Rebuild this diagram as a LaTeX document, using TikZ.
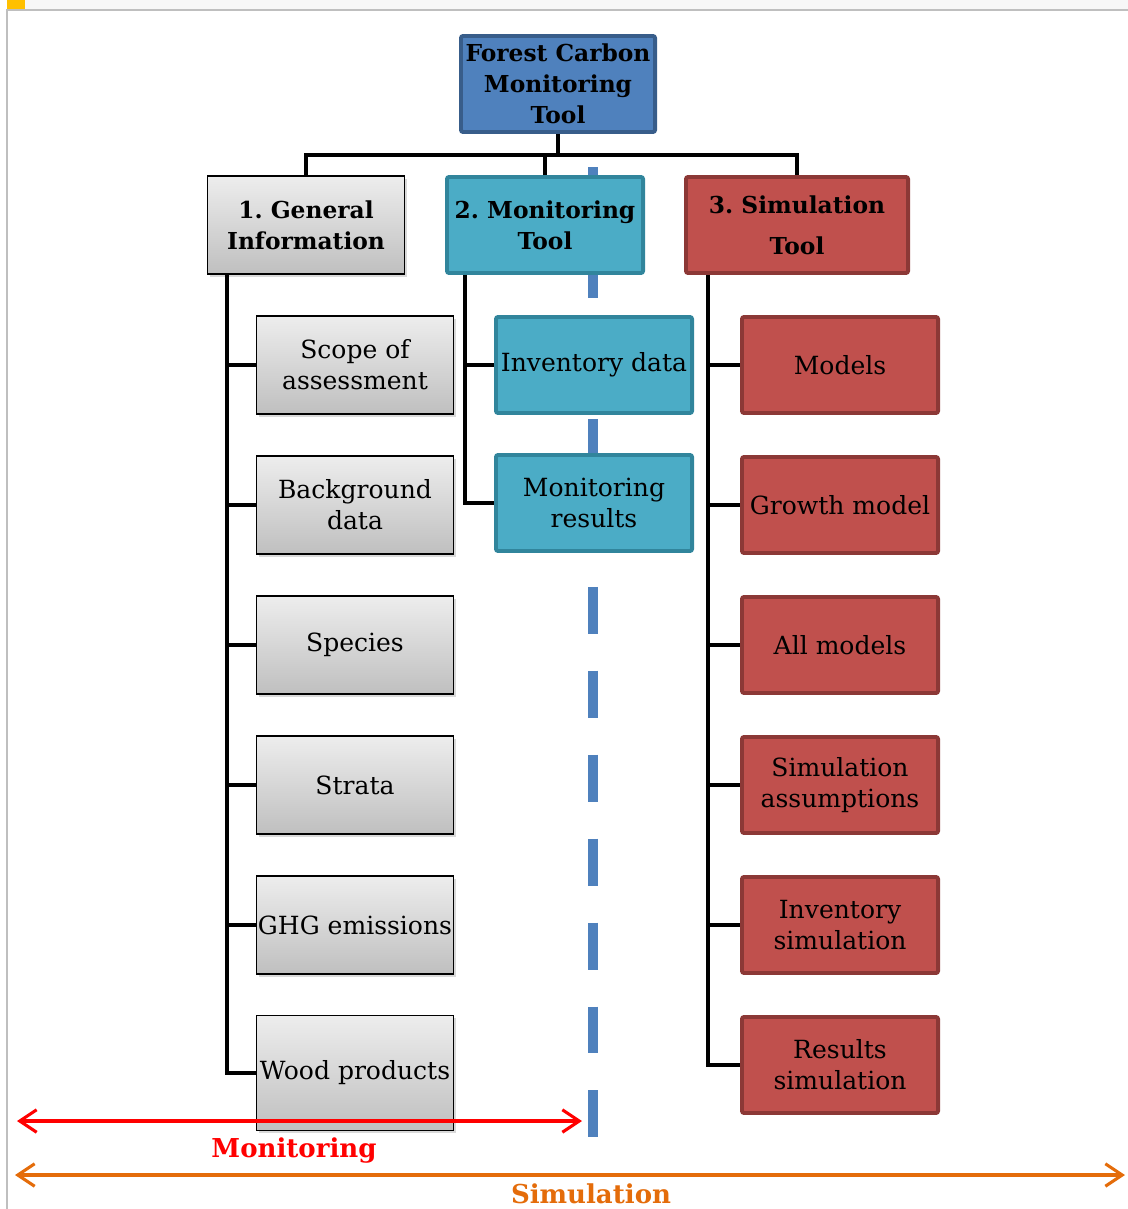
\documentclass[tikz,border=0pt]{standalone}
\usepackage{fontspec}
\setmainfont{DejaVu Serif}
\usetikzlibrary{arrows.meta,shadows}

\definecolor{toolblue}{HTML}{4F81BD}
\definecolor{toolblueline}{HTML}{385D8A}
\definecolor{monteal}{HTML}{4BACC6}
\definecolor{montealline}{HTML}{31859C}
\definecolor{simred}{HTML}{C0504D}
\definecolor{simredline}{HTML}{8C3836}
\definecolor{simorange}{HTML}{E46C0A}
\definecolor{tabgold}{HTML}{FFC000}

\begin{document}
\frenchspacing
\begin{tikzpicture}[x=0.025cm,y=-0.025cm,
  conn/.style={line width=3.2pt},
  box/.style={align=center,inner sep=0pt,font=\fontsize{17.8}{22}\selectfont},
  headbox/.style={font=\fontsize{16.6}{22}\selectfont\bfseries},
  genbox/.style={box,draw=black,line width=1pt,top color=black!7,bottom color=black!25,
    drop shadow={shadow xshift=2pt,shadow yshift=-2pt,opacity=0.3},
    minimum width=4.925cm,minimum height=2.45cm},
  monbox/.style={box,draw=montealline,line width=2.8pt,fill=monteal,rounded corners=1.5pt,
    minimum width=4.9cm,minimum height=2.4cm},
  simbox/.style={box,draw=simredline,line width=2.8pt,fill=simred,rounded corners=1.5pt,
    minimum width=4.9cm,minimum height=2.4cm},
  span/.style={line width=2.2pt,{Straight Barb[length=12pt,width=16pt]}-{Straight Barb[length=12pt,width=16pt]}},
  spanlabel/.style={font=\fontsize{18.5}{22}\selectfont\bfseries}]
\useasboundingbox (0,0) rectangle (1128,1209);

% page frame
\fill[black!3] (7,0) rectangle (1128,10);
\fill[tabgold] (7,0) rectangle (25,9);
\draw[black!25,line width=1.2pt] (1128,10) -- (7,10) -- (7,1209);

% dashed divider, behind the monitoring boxes
\draw[toolblue,line width=7pt,dash pattern=on 33.4pt off 26.3pt] (593,167) -- (593,1138);

% top level
\node[box,headbox,draw=toolblueline,line width=2.8pt,fill=toolblue,rounded corners=1.5pt,
  minimum width=4.85cm,minimum height=2.4cm] (fcmt) at (558,84) {Forest Carbon\\Monitoring\\Tool};
\node[genbox,headbox] (gen) at (306,225) {1. General\\Information};
\node[monbox,headbox] (mon) at (545,225) {2. Monitoring\\Tool};
\node[simbox,headbox,minimum width=5.55cm] (sim) at (797,225) {3. Simulation\\[7pt]Tool};

\draw[conn] (fcmt.south) -- ++(0,21) coordinate (split);
\draw[conn] (gen.north) |- (split) -| (sim.north);
\draw[conn] (mon.north) -- (mon.north |- split);

% 1. general information
\node[genbox] (scope) at (355,365) {Scope of\\assessment};
\node[genbox] (backg) at (355,505) {Background\\data};
\node[genbox] (species) at (355,645) {Species};
\node[genbox] (strata) at (355,785) {Strata};
\node[genbox] (ghg) at (355,925) {GHG emissions};
\node[genbox,minimum height=2.875cm] (wood) at (355,1073) {Wood products};

\draw[conn] (gen.south west) ++(20,0) coordinate (gbus) |- (wood.west);
\foreach \n in {scope,backg,species,strata,ghg}
  \draw[conn] (gbus |- \n.west) -- (\n.west);

% 2. monitoring tool
\node[monbox] (minv) at (594,365) {Inventory data};
\node[monbox] (mres) at (594,503) {Monitoring\\results};

\draw[conn] (mon.south west) ++(20,0) coordinate (mbus) |- (mres.west);
\draw[conn] (mbus |- minv.west) -- (minv.west);

% 3. simulation tool
\node[simbox] (models) at (840,365) {Models};
\node[simbox] (growth) at (840,505) {Growth model};
\node[simbox] (allmod) at (840,645) {All models};
\node[simbox] (assump) at (840,785) {Simulation\\assumptions};
\node[simbox] (invsim) at (840,925) {Inventory\\simulation};
\node[simbox] (ressim) at (840,1065) {Results\\simulation};

\draw[conn] (sim.south west) ++(24,0) coordinate (sbus) |- (ressim.west);
\foreach \n in {models,growth,allmod,assump,invsim}
  \draw[conn] (sbus |- \n.west) -- (\n.west);

% scope arrows
\coordinate (monl) at (17,1121);
\coordinate (monr) at (582,1121);
\draw[span,red] (monl) -- (monr);
\node[spanlabel,text=red] (monlabel) at (294,1150) {Monitoring};
\coordinate (siml) at (15,1175);
\coordinate (simr) at (1125,1175);
\draw[span,simorange] (siml) -- (simr);
\node[spanlabel,text=simorange] (simlabel) at (591,1194) {Simulation};
\end{tikzpicture}
\end{document}
